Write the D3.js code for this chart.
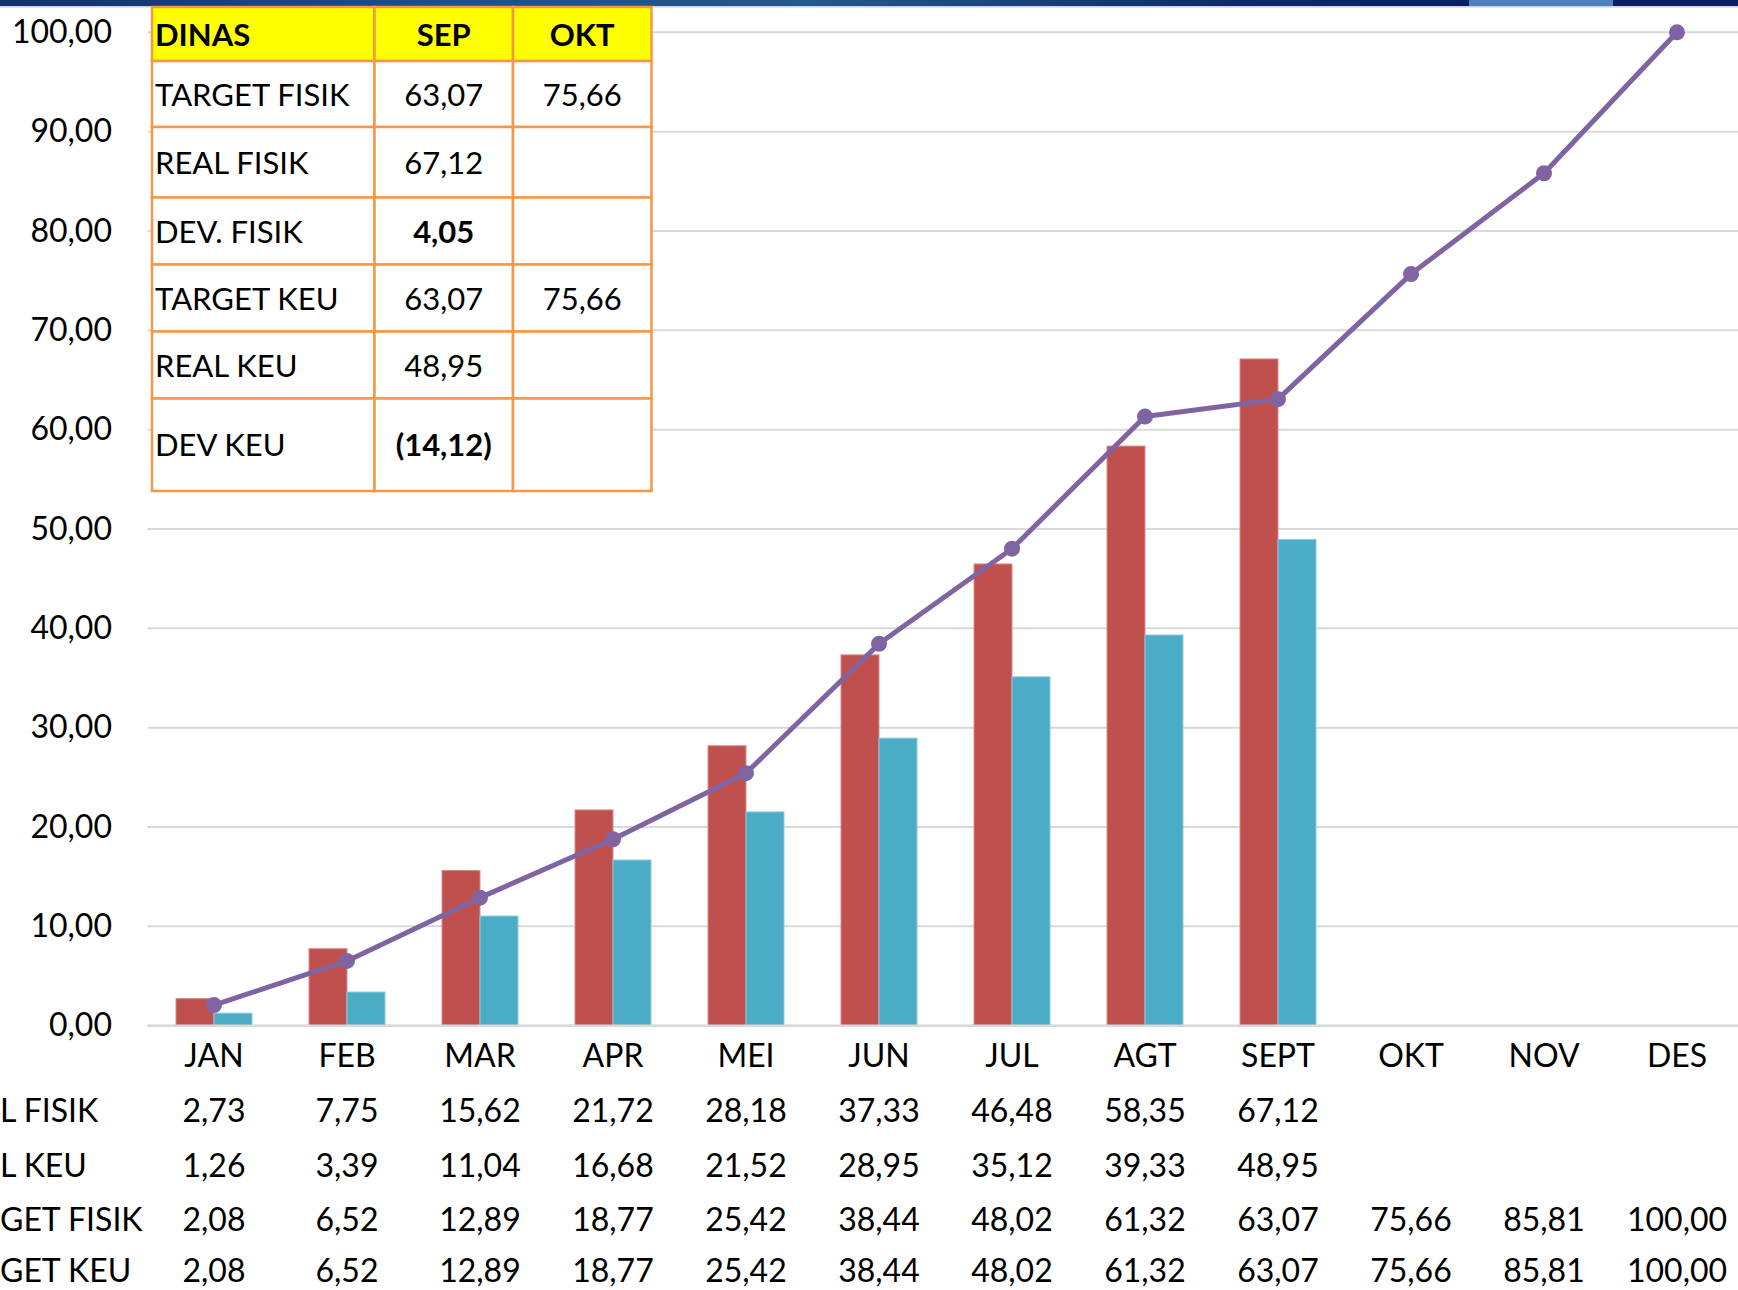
<!DOCTYPE html>
<html>
<head>
<meta charset="utf-8">
<script src="https://cdn.jsdelivr.net/npm/d3@7"></script>
<style>
  html, body { margin: 0; padding: 0; background: #fff; }
  svg { display: block; font-family: Lato, "Open Sans", sans-serif; }
</style>
</head>
<body>
<svg id="chart" width="1738" height="1290"></svg>
<script>
// chart data
const months = ["JAN", "FEB", "MAR", "APR", "MEI", "JUN", "JUL", "AGT", "SEPT", "OKT", "NOV", "DES"];
const realFisik = [2.73, 7.75, 15.62, 21.72, 28.18, 37.33, 46.48, 58.35, 67.12, null, null, null];
const realKeu = [1.26, 3.39, 11.04, 16.68, 21.52, 28.95, 35.12, 39.33, 48.95, null, null, null];
const targetFisik = [2.08, 6.52, 12.89, 18.77, 25.42, 38.44, 48.02, 61.32, 63.07, 75.66, 85.81, 100.00];
const targetKeu = [2.08, 6.52, 12.89, 18.77, 25.42, 38.44, 48.02, 61.32, 63.07, 75.66, 85.81, 100.00];
const yTicks = [0, 10, 20, 30, 40, 50, 60, 70, 80, 90, 100];

// data table under the chart (labels are cut at the left edge in the original)
const tableRowLabels = ["L FISIK", "L KEU", "GET FISIK", "GET KEU"];
const tableRows = [realFisik, realKeu, targetFisik, targetKeu];

// inset summary table
const insetHeader = ["DINAS", "SEP", "OKT"];
const insetLabels = ["TARGET FISIK", "REAL FISIK", "DEV. FISIK", "TARGET KEU", "REAL KEU", "DEV KEU"];
const insetSep = ["63,07", "67,12", "4,05", "63,07", "48,95", "(14,12)"];
const insetOkt = ["75,66", "", "", "75,66", "", ""];
const insetBold = [false, false, true, false, false, true];

const locale = d3.formatLocale({decimal: ",", thousands: ".", grouping: [3], currency: ["", ""]});
const fmt = locale.format(".2f");

const svg = d3.select("#chart");

// top banner strip
const defs = svg.append("defs");
const grad = defs.append("linearGradient").attr("id", "banner").attr("x1", "0").attr("x2", "1");
[[0, "#13306f"], [0.3, "#1f4f86"], [0.55, "#24598c"], [0.84, "#0e2a6b"], [1, "#0a2066"]]
  .forEach(([o, c]) => grad.append("stop").attr("offset", o).attr("stop-color", c));
svg.append("rect").attr("x", 0).attr("y", 0).attr("width", 1469).attr("height", 6).attr("fill", "url(#banner)");
svg.append("rect").attr("x", 1469).attr("y", 0).attr("width", 144).attr("height", 6).attr("fill", "#4f81bd");
svg.append("rect").attr("x", 1613).attr("y", 0).attr("width", 125).attr("height", 6).attr("fill", "#0a1f63");
svg.append("rect").attr("x", 0).attr("y", 6).attr("width", 1738).attr("height", 1.5).attr("fill", "#c9cfdc");

// scales
const x = d3.scaleBand().domain(months).range([147.5, 1743.5]).padding(0);
const y = d3.scaleLinear().domain([0, 100]).range([1025.7, 32.3]);
const xSub = d3.scaleBand().domain(["fisik", "keu"]).range([-38, 38]);
const cx = m => x(m) + x.bandwidth() / 2;

// gridlines
svg.append("g")
  .selectAll("line")
  .data(yTicks)
  .join("line")
  .attr("x1", 147.5)
  .attr("x2", 1738)
  .attr("y1", d => y(d))
  .attr("y2", d => y(d))
  .attr("stroke", "#d9d9d9")
  .attr("stroke-width", 2);

// y axis labels
const yAxis = svg.append("g")
  .attr("transform", "translate(148,0)")
  .call(d3.axisLeft(y).tickValues(yTicks).tickFormat(fmt).tickSize(0).tickPadding(36));
yAxis.select(".domain").remove();
yAxis.selectAll("text")
  .attr("font-family", "Lato")
  .attr("font-size", 32)
  .attr("fill", "#000");

// bars
const barData = months.map((m, i) => ({m, fisik: realFisik[i], keu: realKeu[i]}));
const series = [
  {key: "fisik", color: "#c0504d", edge: "#d98b89"},
  {key: "keu", color: "#4bacc6", edge: "#8fcbdc"}
];
series.forEach(s => {
  svg.append("g")
    .selectAll("rect")
    .data(barData.filter(d => d[s.key] != null))
    .join("rect")
    .attr("x", d => cx(d.m) + xSub(s.key))
    .attr("y", d => y(d[s.key]))
    .attr("width", xSub.bandwidth())
    .attr("height", d => y(0) - y(d[s.key]))
    .attr("fill", s.color)
    .attr("stroke", s.edge)
    .attr("stroke-width", 1);
});

// baseline
svg.append("line")
  .attr("x1", 147.5).attr("x2", 1738)
  .attr("y1", y(0)).attr("y2", y(0))
  .attr("stroke", "#d9d9d9").attr("stroke-width", 2.5);

// target line
const lineData = months.map((m, i) => ({m, v: targetFisik[i]}));
svg.append("path")
  .datum(lineData)
  .attr("fill", "none")
  .attr("stroke", "#8064a2")
  .attr("stroke-width", 5)
  .attr("stroke-linejoin", "round")
  .attr("d", d3.line().x(d => cx(d.m)).y(d => y(d.v)));
svg.append("g")
  .selectAll("circle")
  .data(lineData)
  .join("circle")
  .attr("cx", d => cx(d.m))
  .attr("cy", d => y(d.v))
  .attr("r", 8)
  .attr("fill", "#8064a2");

// month labels
const xAxis = svg.append("g")
  .attr("transform", `translate(0,${y(0)})`)
  .call(d3.axisBottom(x).tickSize(0));
xAxis.select(".domain").remove();
xAxis.selectAll("text")
  .attr("y", 41.5)
  .attr("dy", null)
  .attr("font-family", "Lato")
  .attr("font-size", 32)
  .attr("fill", "#000");

// data table rows
const rowBaselines = [1122, 1177, 1231, 1282];
tableRows.forEach((vals, r) => {
  svg.append("text")
    .attr("x", 0)
    .attr("y", rowBaselines[r])
    .attr("font-size", 32)
    .attr("fill", "#000")
    .text(tableRowLabels[r]);
  svg.append("g")
    .selectAll("text")
    .data(months.map((m, i) => ({m, v: vals[i]})).filter(d => d.v != null))
    .join("text")
    .attr("x", d => cx(d.m))
    .attr("y", rowBaselines[r])
    .attr("text-anchor", "middle")
    .attr("font-size", 32)
    .attr("fill", "#000")
    .text(d => fmt(d.v));
});

// inset table
const colX = [152, 374.5, 513, 651.5];
const rowY = [7, 61, 127, 197.5, 264.5, 331.5, 398.5, 491];
const inset = svg.append("g");
for (let r = 0; r < rowY.length - 1; r++) {
  for (let c = 0; c < colX.length - 1; c++) {
    inset.append("rect")
      .attr("x", colX[c]).attr("y", rowY[r])
      .attr("width", colX[c + 1] - colX[c])
      .attr("height", rowY[r + 1] - rowY[r])
      .attr("fill", r === 0 ? "#ffff00" : "#fff")
      .attr("stroke", "#f79646")
      .attr("stroke-width", 2.5);
  }
}
const midY = r => (rowY[r] + rowY[r + 1]) / 2 + 11.5;
const midX = c => (colX[c] + colX[c + 1]) / 2;
insetHeader.forEach((h, c) => {
  inset.append("text")
    .attr("x", c === 0 ? colX[0] + 3 : midX(c))
    .attr("y", midY(0))
    .attr("text-anchor", c === 0 ? "start" : "middle")
    .attr("font-size", 31)
    .attr("font-weight", 700)
    .text(h);
});
insetLabels.forEach((lab, i) => {
  const r = i + 1;
  inset.append("text")
    .attr("x", colX[0] + 3).attr("y", midY(r))
    .attr("font-size", 31)
    .text(lab);
  inset.append("text")
    .attr("x", midX(1)).attr("y", midY(r))
    .attr("text-anchor", "middle")
    .attr("font-size", 31)
    .attr("font-weight", insetBold[i] ? 700 : 400)
    .text(insetSep[i]);
  if (insetOkt[i]) {
    inset.append("text")
      .attr("x", midX(2)).attr("y", midY(r))
      .attr("text-anchor", "middle")
      .attr("font-size", 31)
      .text(insetOkt[i]);
  }
});
</script>
</body>
</html>
